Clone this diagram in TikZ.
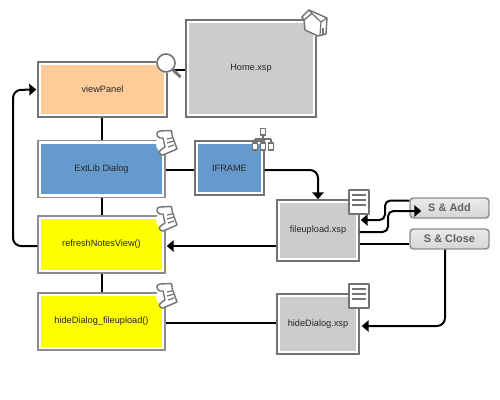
\documentclass[tikz,border=0pt]{standalone}
\usepackage{fontspec}
\setmainfont{Liberation Sans}
\usetikzlibrary{arrows.meta,calc}
\definecolor{edgegray}{gray}{0.45}
\definecolor{softgray}{gray}{0.55}
\definecolor{fillgray}{gray}{0.8}
\definecolor{fillorange}{HTML}{FFCC99}
\definecolor{fillblue}{HTML}{6699CC}
\definecolor{fillyellow}{HTML}{FFFF00}
\tikzset{
  x=0.75pt,y=-0.75pt,
  panel/.style={draw=edgegray,line width=1.1pt,fill=white,inner sep=0pt,font=\fontsize{6.9pt}{8pt}\selectfont,text=black!85,
    path picture={\fill[#1] ([shift={(2.6pt,-2.6pt)}]path picture bounding box.north west) rectangle ([shift={(-2.6pt,2.6pt)}]path picture bounding box.south east);}},
  softpanel/.style={panel=#1,draw=softgray},
  btn/.style={draw=gray!90,line width=1.1pt,rounded corners=2.6pt,top color=white!92!black,bottom color=black!16,inner sep=0pt,
    font=\bfseries\fontsize{8.2pt}{9pt}\selectfont,text=black!62},
  link/.style={draw=black,line width=1.5pt,rounded corners=6pt},
  arrowlink/.style={link,-{Triangle[length=5.2pt,width=8.5pt]}},
  icon/.style={draw=edgegray,line width=1.05pt,fill=white,line join=round},
  iconline/.style={draw=edgegray,line width=0.9pt},
  notch/.style={fill=white,draw=none}
}
\newcommand{\scrollicon}[2]{%
  \begin{scope}[shift={(#1,#2)}]
    \fill[notch] (9,14) circle (9);
    \draw[icon] (4,1) -- (15,0.5) .. controls (17,1) and (15,3) .. (16,5) -- (21,19) -- (7,25) .. controls (3,25) and (2,21) .. (6,19) -- (9,17) -- (7,8) -- (4,8) .. controls (0,7) and (0,1) .. (4,1) -- cycle;
    \draw[iconline] (11,9) -- (16,8) (11,13) -- (18,11) (12,17) -- (18,15);
  \end{scope}}
\newcommand{\docicon}[2]{%
  \begin{scope}[shift={(#1,#2)}]
    \draw[icon,line width=1.3pt] (0,0) rectangle (20,24);
    \draw[iconline,line width=1.2pt] (3,5) -- (17,5) (3,10) -- (17,10) (3,15) -- (17,15);
  \end{scope}}
\begin{document}
\begin{tikzpicture}
\useasboundingbox (0,0) rectangle (500,400);
\fill[white] (0,0) rectangle (500,400);
% boxes
\node[panel=fillorange,minimum width=129*0.75pt,minimum height=55*0.75pt] (view) at (102.5,89.5) {viewPanel};
\node[panel=fillgray,minimum width=130*0.75pt,minimum height=97*0.75pt] (home) at (251,68.5) {Home.xsp};
\node[softpanel=fillblue,minimum width=127*0.75pt,minimum height=57*0.75pt] (ext) at (101.5,169) {ExtLib Dialog};
\node[panel=fillblue,minimum width=69*0.75pt,minimum height=54*0.75pt] (iframe) at (229.5,168) {IFRAME};
\node[softpanel=fillyellow,minimum width=127*0.75pt,minimum height=57*0.75pt] (refresh) at (101.5,244.5) {refreshNotesView()};
\node[softpanel=fillyellow,minimum width=127*0.75pt,minimum height=57*0.75pt] (hidefn) at (101.5,321.5) {hideDialog\_fileupload()};
\node[panel=fillgray,minimum width=82*0.75pt,minimum height=61*0.75pt] (upload) at (318,230.5) {fileupload.xsp};
\node[panel=fillgray,minimum width=82*0.75pt,minimum height=60*0.75pt] (hidexsp) at (318,324) {hideDialog.xsp};
\node[btn,minimum width=79*0.75pt,minimum height=20*0.75pt] (add) at (449.5,208) {S \& Add};
\node[btn,minimum width=79*0.75pt,minimum height=20*0.75pt] (close) at (449.5,239) {S \& Close};
% connectors
\draw[link] (view.south -| ext.north) -- (ext.north);
\draw[link] (ext.south) -- (refresh.north);
\draw[link] (refresh.south) -- (hidefn.north);
\draw[link] (ext.east |- iframe.center) ++(0,2) -- ($(iframe.west)+(0,2)$);
\draw[link] ($(view.east)+(0,-20)$) -- (home.west |- {$(view.east)+(0,-20)$});
\draw[arrowlink] ($(refresh.west)+(0,1.5)$) -| (13,90) -- ($(view.west)+(-1,0)$);
\draw[arrowlink] ($(iframe.east)+(0,2)$) -| (upload.north);
\draw[arrowlink] ($(upload.west)+(0,15.5)$) -- ($(refresh.east)+(1,1.5)$);
\draw[link] (hidefn.east |- hidexsp.west) ++(0,-1) -- ($(hidexsp.west)+(0,-1)$);
\draw[link] ($(upload.east)+(0,13.5)$) -- ($(close.west)+(0,5)$);
\draw[arrowlink] ($(close.south)+(-4.5,0)$) |- ($(hidexsp.east)+(2,2)$);
\draw[arrowlink,rounded corners=4pt] ($(add.west)+(0,-7.5)$) -- (385,200.5) -- (385,220) -- ($(upload.east)+(1,-10.5)$);
\draw[arrowlink,rounded corners=4pt] ($(upload.east)+(0,1.5)$) -- (388,232) -- (388,211) -- ($(add.west)+(12,3)$);
% icons
\fill[notch] (166,63) circle (10);
\draw[draw=edgegray,line width=2.2pt] (171,68) -- (180.5,77);
\draw[icon,line width=1.2pt] (166,63) circle (9);
\scrollicon{156}{130}
\scrollicon{156}{206}
\scrollicon{156}{283}
\docicon{349}{190}
\docicon{349}{284}
% house
\begin{scope}[shift={(302,10)}]
  \fill[notch] (5,14) -- (14,27) -- (14,14) -- cycle;
  \draw[icon] (0,7) -- (7,0) -- (25,8) -- (24,24) -- (16,26) -- (3,20) -- (2,10) -- cycle;
  \draw[icon] (2,10) -- (10,3.5) -- (7,0) -- (0,7) -- cycle;
  \draw[iconline] (10,3.5) -- (19,12) -- (25,8) (19,12) -- (18,25);
  \fill[edgegray] (20,18) rectangle (22,24);
\end{scope}
% org chart
\begin{scope}[shift={(252,128)}]
  \draw[iconline] (11,6) -- (11,11) (3,11) -- (19,11) (3,11) -- (3,15) (11,11) -- (11,15) (19,11) -- (19,15);
  \draw[icon] (8.5,0.5) rectangle (13.5,7);
  \draw[icon] (0.5,15) rectangle (5.5,22);
  \draw[icon] (8.5,15) rectangle (13.5,22);
  \draw[icon] (16.5,15) rectangle (21.5,22);
\end{scope}
\end{tikzpicture}
\end{document}
